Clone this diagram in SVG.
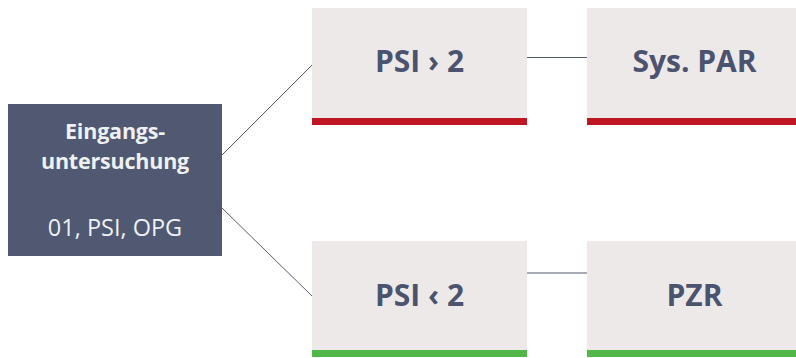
<svg xmlns="http://www.w3.org/2000/svg" width="796" height="358" viewBox="0 0 796 358">
<style>
.bg{fill:#ffffff}
.dark{fill:#505872}
.light{fill:#ede9e9}
.red{fill:#be1622}
.green{fill:#50b748}
.t{font-family:"Open Sans","Noto Sans","Liberation Sans",sans-serif;text-anchor:middle}
.big{font-size:30px;font-weight:700;fill:#4b536f}
.wb{font-size:21.5px;font-weight:700;fill:#eef0f2;letter-spacing:-0.2px}
.wn{font-size:23.5px;font-weight:400;fill:#eef0f2}
.conn line{stroke:#555b70;stroke-width:1;fill:none}
</style>
<rect class="bg" x="0" y="0" width="796" height="358"/>
<g id="connectors" class="conn">
<line x1="222" y1="155" x2="312" y2="65"/>
<line x1="222" y1="208" x2="312" y2="296"/>
<line x1="527" y1="57.5" x2="587" y2="57.5"/>
<line x1="527" y1="273" x2="587" y2="273"/>
</g>
<g id="eingang">
<rect class="dark" x="8" y="104" width="214" height="152"/>
<text class="t wb" x="115" y="139">Eingangs-</text>
<text class="t wb" x="115" y="168.5">untersuchung</text>
<text class="t wn" x="115" y="236">01, PSI, OPG</text>
</g>
<g id="psi-gt">
<rect class="light" x="312" y="8" width="215" height="110"/>
<rect class="red" x="312" y="118" width="215" height="7"/>
<text class="t big" x="419.5" y="72">PSI › 2</text>
</g>
<g id="syspar">
<rect class="light" x="587" y="8" width="215" height="110"/>
<rect class="red" x="587" y="118" width="215" height="7"/>
<text class="t big" x="694.5" y="72">Sys. PAR</text>
</g>
<g id="psi-lt">
<rect class="light" x="312" y="241" width="215" height="109"/>
<rect class="green" x="312" y="350" width="215" height="7"/>
<text class="t big" x="419.5" y="306">PSI ‹ 2</text>
</g>
<g id="pzr">
<rect class="light" x="587" y="241" width="215" height="109"/>
<rect class="green" x="587" y="350" width="215" height="7"/>
<text class="t big" x="694.5" y="306">PZR</text>
</g>
</svg>
